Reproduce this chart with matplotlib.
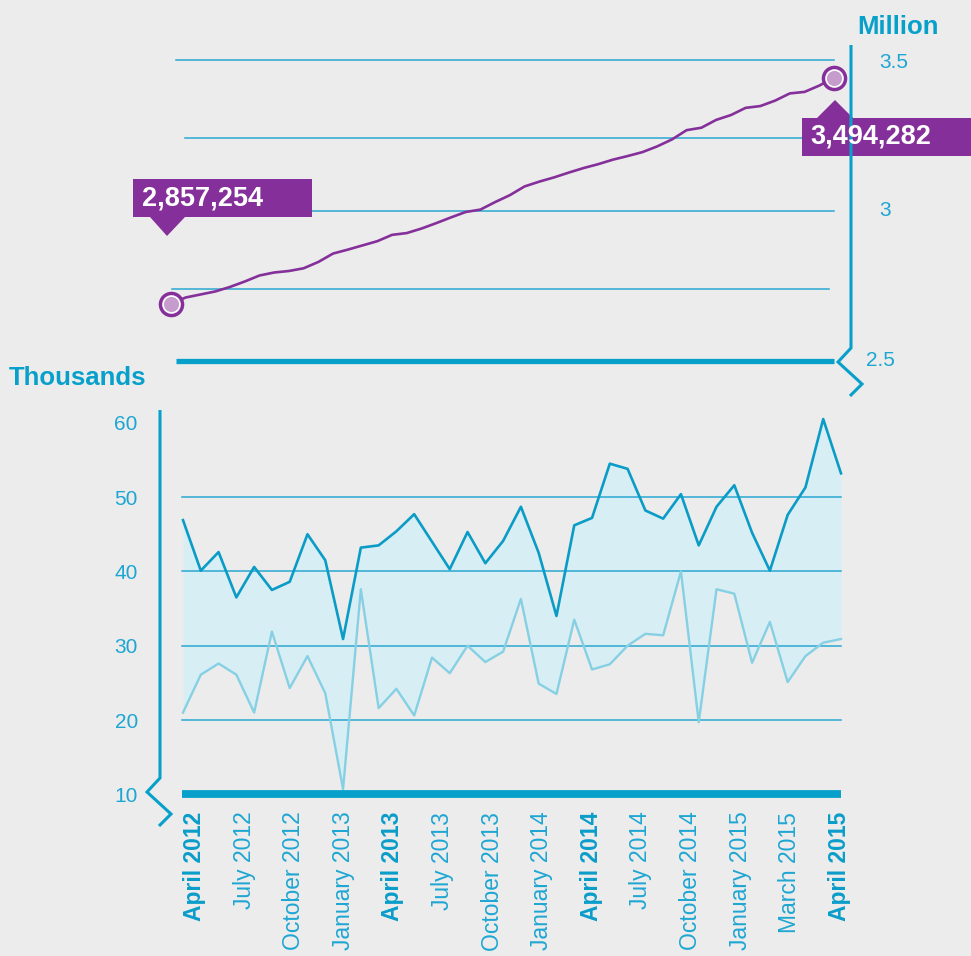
import numpy as np
import matplotlib.pyplot as plt
from matplotlib.lines import Line2D
from matplotlib.patches import Polygon

# top panel: population, million (one value per step along the line)
population_m = [2.691, 2.711, 2.721, 2.731, 2.746, 2.764, 2.784, 2.794, 2.799, 2.808,
                2.829, 2.857, 2.870, 2.884, 2.898, 2.919, 2.925, 2.940, 2.958, 2.977,
                2.995, 3.003, 3.028, 3.051, 3.080, 3.096, 3.110, 3.126, 3.141, 3.154,
                3.169, 3.181, 3.194, 3.213, 3.236, 3.267, 3.275, 3.301, 3.317, 3.341,
                3.347, 3.365, 3.389, 3.394, 3.415, 3.441]
start_label = '2,857,254'
end_label = '3,494,282'
top_ticks = [3.5, 3.0, 2.5]
top_tick_labels = ['3.5', '3', '2.5']

# bottom panel: monthly values, thousands
upper_k = [46.9, 40.1, 42.6, 36.5, 40.6, 37.5, 38.6, 45.0, 41.5, 30.9,
           43.2, 43.5, 45.4, 47.7, 44.0, 40.3, 45.3, 41.1, 44.1, 48.7,
           42.5, 34.0, 46.2, 47.2, 54.5, 53.8, 48.2, 47.1, 50.4, 43.5,
           48.7, 51.6, 45.2, 40.1, 47.6, 51.3, 60.5, 53.2]
lower_k = [21.0, 26.1, 27.6, 26.1, 21.0, 31.9, 24.3, 28.6, 23.6, 10.7,
           37.6, 21.6, 24.2, 20.6, 28.4, 26.3, 30.0, 27.8, 29.2, 36.3,
           24.9, 23.5, 33.5, 26.8, 27.5, 30.0, 31.6, 31.4, 40.0, 19.7,
           37.6, 37.0, 27.7, 33.2, 25.1, 28.6, 30.4, 30.9]
bottom_ticks = [10, 20, 30, 40, 50, 60]
month_labels = ['April 2012', 'July 2012', 'October 2012', 'January 2013',
                'April 2013', 'July 2013', 'October 2013', 'January 2014',
                'April 2014', 'July 2014', 'October 2014', 'January 2015',
                'March 2015', 'April 2015']

W, H = 971, 956
BG = '#ebeceb'
PURPLE = '#85309a'
GRID = '#2aa7d1'
AXIS = '#07a0cb'
DARK = '#0a9cc6'
LIGHT = '#86d0e4'
FILL = '#d8eef5'
TXT = '#1ea6d3'
FONT = 'Liberation Sans'

plt.rcParams['font.family'] = [FONT, 'DejaVu Sans']

fig = plt.figure(figsize=(W / 100, H / 100), dpi=100, facecolor=BG)


def px(x, y):
    # pixel position (from top-left) -> figure fraction
    return x / W, 1 - y / H


def box(l, t, r, b):
    return [l / W, 1 - b / H, (r - l) / W, (b - t) / H]


def fig_line(points, lw, color):
    xs, ys = zip(*[px(x, y) for x, y in points])
    fig.add_artist(Line2D(xs, ys, lw=lw, color=color, transform=fig.transFigure,
                          solid_joinstyle='miter', solid_capstyle='butt'))


def fig_poly(points, color):
    fig.add_artist(Polygon([px(x, y) for x, y in points], closed=True, fc=color,
                           ec='none', transform=fig.transFigure))


# ---------------- top panel ----------------
ax1 = fig.add_axes(box(171, 45, 851, 361))
ax1.set_facecolor('none')
n = len(population_m)
step = (834 - 171) / (n - 1)
ax1.set_xlim(0, (851 - 171) / step)
ax1.set_ylim(2.5, 3.5 + 15 / 301)
for s in ax1.spines.values():
    s.set_visible(False)
ax1.set_xticks([])
ax1.set_yticks([])

for yv, x0, x1 in [(3.5, 0.34, 45.0), (3.24, 0.95, 44.9), (3.0, 0.07, 45.0), (2.74, 0.07, 44.66)]:
    ax1.plot([x0, x1], [yv, yv], color=GRID, lw=1.1, zorder=1)
ax1.plot([0.34, 45.0], [2.5, 2.5], color=AXIS, lw=3.8, zorder=2, clip_on=False,
         solid_capstyle='butt')

xs_top = np.arange(n)
ax1.plot(xs_top, population_m, color=PURPLE, lw=1.9, zorder=3)
for i in (0, n - 1):
    ax1.plot(xs_top[i], population_m[i], 'o', ms=16, mfc='#c59ccc', mec=PURPLE, mew=2.4,
             zorder=5, clip_on=False)
    ax1.plot(xs_top[i], population_m[i], 'o', ms=12.0, mfc='none', mec='white', mew=1.1,
             zorder=6, clip_on=False)

for v, lab in zip(top_ticks, top_tick_labels):
    xoff = 1.022 if lab == '2.5' else 1.041
    yoff = -0.008 if lab == '3.5' else 0
    ax1.text(xoff, v + yoff, lab, transform=ax1.get_yaxis_transform(), ha='left',
             va='center', fontsize=15, color=TXT, clip_on=False)

# right axis line with break
fig_line([(851, 45), (851, 348), (838, 362), (862, 384), (850, 396)], 2.2, AXIS)

# value callouts
fig_poly([(133, 179), (312, 179), (312, 217), (185, 217), (167, 236), (150, 217), (133, 217)], PURPLE)
fig.text(*px(142, 199), start_label, ha='left', va='center', fontsize=19.5,
         fontweight='bold', color='white')
fig_poly([(802, 118), (817, 118), (835, 100), (853, 118), (975, 118), (975, 156), (802, 156)], PURPLE)
fig.text(*px(810, 137), end_label, ha='left', va='center', fontsize=19.5,
         fontweight='bold', color='white')

fig.text(*px(857, 27), 'Million', ha='left', va='center', fontsize=18.5,
         fontweight='bold', color=AXIS)

# ---------------- bottom panel ----------------
ax2 = fig.add_axes(box(160, 410, 845, 794.3))
ax2.set_facecolor('none')
m = len(upper_k)
step2 = (841 - 183) / (m - 1)
ax2.set_xlim(-(183 - 160) / step2, (845 - 183) / step2)
ax2.set_ylim(10, 10 + (794.3 - 410) / 7.43)
for s in ax2.spines.values():
    s.set_visible(False)

xs = np.arange(m)
ax2.fill_between(xs, lower_k, upper_k, color=FILL, lw=0, zorder=1)
for yv in bottom_ticks[1:-1]:
    ax2.plot([-0.06, m - 1], [yv, yv], color=GRID, lw=1.1, zorder=2)
ax2.plot(xs, lower_k, color=LIGHT, lw=1.7, zorder=3)
ax2.plot(xs, upper_k, color=DARK, lw=1.9, zorder=4)
ax2.plot([-0.06, m - 1], [10, 10], color=AXIS, lw=5.6, zorder=5, clip_on=False,
         solid_capstyle='butt')

ax2.set_yticks(bottom_ticks)
ax2.set_yticklabels([str(t) for t in bottom_ticks])
ax2.tick_params(axis='y', length=0, pad=16, labelsize=15, labelcolor=TXT)
ax2.get_yticklabels()[-1].set_y(59.0)

ax2.set_xticks(np.linspace(0.65, 36.9, len(month_labels)))
ax2.set_xticklabels(month_labels, rotation=90, va='top', ha='center')
ax2.tick_params(axis='x', length=0, pad=12.5, labelsize=16.5, labelcolor=TXT)
for t in ax2.get_xticklabels():
    if t.get_text().startswith('April'):
        t.set_fontweight('bold')
        t.set_color('#0a9dca')

fig_line([(160, 410), (160, 778), (147, 792), (171, 814), (159, 826)], 2.2, AXIS)

fig.text(*px(9, 378), 'Thousands', ha='left', va='center', fontsize=18.5,
         fontweight='bold', color=AXIS)

fig.savefig('out.png', dpi=100, facecolor=BG)
